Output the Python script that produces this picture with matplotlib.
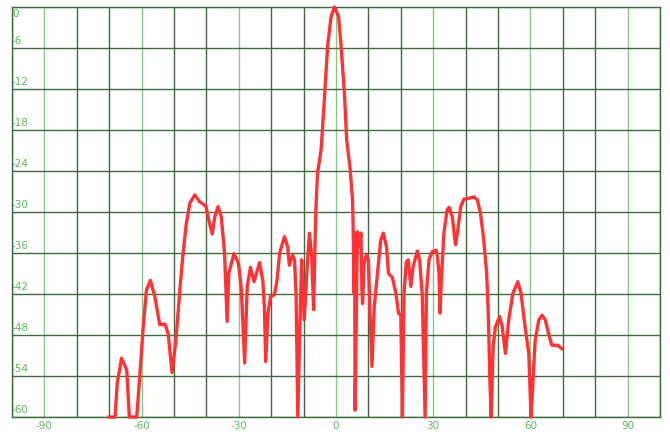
import matplotlib
matplotlib.use("Agg")
import matplotlib.pyplot as plt
import numpy as np

angle_deg = [-70.0, -69.0, -68.2, -67.5, -66.2, -64.6, -64.3, -63.8, -61.5, -60.5, -59.5, -58.5,
             -57.3, -55.9, -54.4, -52.8, -51.8, -50.6, -49.4, -48.2, -47.2, -46.2, -45.1, -43.6,
             -42.1, -40.2, -39.0, -38.2, -37.4, -36.4, -35.4, -34.4, -33.6, -33.1, -31.5, -30.1,
             -29.2, -28.2, -27.4, -26.4, -25.3, -24.3, -23.6, -22.6, -22.1, -21.7, -21.0, -20.2,
             -19.0, -18.2, -17.4, -15.9, -14.9, -14.4, -13.4, -12.8, -12.3, -11.8, -11.0, -10.6,
             -9.8, -8.9, -8.2, -7.5, -6.9, -6.5, -6.2, -5.7, -4.6, -3.6, -2.6, -1.5,
             -0.5, 0.8, 1.5, 2.6, 3.3, 4.3, 5.1, 5.3, 5.6, 5.75, 5.9, 6.6,
             7.2, 7.7, 8.0, 8.2, 8.7, 9.4, 10.0, 10.5, 11.1, 11.8, 12.8, 13.8,
             14.6, 15.6, 16.2, 17.4, 18.5, 19.3, 20.0, 20.5, 21.0, 21.7, 22.3, 23.1,
             23.8, 25.1, 25.8, 26.6, 27.5, 27.9, 28.7, 29.7, 30.9, 31.3, 31.8, 32.1,
             32.5, 33.3, 34.3, 34.9, 35.9, 36.9, 37.6, 38.5, 39.5, 41.0, 42.6, 43.6,
             44.6, 45.6, 46.5, 47.0, 47.5, 47.9, 48.5, 49.2, 50.5, 51.3, 52.3, 53.3,
             54.6, 56.1, 57.1, 58.5, 59.5, 60.2, 60.8, 61.5, 62.6, 63.6, 64.6, 65.6,
             66.6, 68.4, 69.7]
gain_db = [-60.0, -60.0, -60.0, -55.0, -51.4, -53.1, -55.5, -60.0, -60.0, -53.6, -46.8, -41.4,
           -40.0, -42.4, -46.5, -46.4, -47.8, -53.5, -48.7, -41.4, -36.0, -31.7, -28.7, -27.5,
           -28.5, -29.1, -31.7, -33.2, -30.7, -29.2, -30.7, -36.0, -46.0, -39.0, -36.1, -37.5,
           -41.4, -52.1, -40.9, -38.1, -40.2, -38.6, -37.4, -40.0, -43.9, -51.9, -44.8, -42.4,
           -42.1, -40.0, -36.0, -33.6, -35.1, -37.8, -36.3, -37.0, -42.4, -60.0, -43.9, -37.0,
           -45.8, -38.0, -33.1, -36.5, -44.3, -35.1, -29.5, -24.3, -20.9, -13.6, -5.8, -1.4,
           0.0, -1.4, -5.3, -12.6, -19.5, -23.4, -28.2, -32.6, -41.9, -33.1, -59.0, -32.9,
           -35.1, -33.1, -41.4, -43.4, -37.5, -36.3, -37.0, -44.8, -52.6, -43.9, -39.0, -34.1,
           -33.1, -35.1, -39.0, -39.6, -41.9, -44.8, -45.1, -60.0, -41.9, -37.3, -37.0, -40.9,
           -38.0, -35.7, -37.0, -41.9, -60.0, -41.9, -37.0, -35.8, -35.6, -36.5, -39.0, -44.8,
           -40.0, -33.1, -29.7, -29.3, -30.7, -34.8, -32.6, -29.2, -28.1, -28.0, -27.8, -28.2,
           -30.2, -34.1, -39.0, -44.8, -54.6, -60.0, -49.7, -46.8, -45.3, -46.8, -50.7, -45.8,
           -41.9, -40.2, -41.9, -47.3, -50.7, -60.0, -54.6, -48.7, -45.8, -45.1, -45.8, -47.8,
           -49.5, -49.5, -50.0]

x_ticks = [-90, -60, -30, 0, 30, 60, 90]
x_tick_labels = ["-90", "-60", "-30", "0", "30", "60", "90"]
y_ticks = [0, -6, -12, -18, -24, -30, -36, -42, -48, -54, -60]
y_tick_labels = ["0", "-6", "-12", "-18", "-24", "-30", "-36", "-42", "-48", "-54", "-60"]

W, H = 670, 434
fig = plt.figure(figsize=(W / 100, H / 100), dpi=100)
ax = fig.add_axes([12 / W, (H - 417) / H, (660 - 12) / W, (417 - 7) / H])
ax.set_xlim(-100, 100)
ax.set_ylim(-60, 0)

dark = "#3f6b3f"
light = "#86c886"
label_col = "#5cb85c"

# grid
for xv in np.arange(-100, 101, 10):
    c = light if (xv % 30 == 0) else dark
    ax.axvline(xv, color=c, lw=1.0, zorder=1)
for yv in y_ticks:
    c = light if yv == 0 else dark
    ax.axhline(yv, color=c, lw=1.0, zorder=1)

for s in ax.spines.values():
    s.set_color(dark)
    s.set_linewidth(1.0)

ax.set_xticks(x_ticks)
ax.set_xticklabels(x_tick_labels, color=label_col, fontsize=7.5)
ax.set_yticks([])
ax.tick_params(axis="x", length=0, pad=3)

for yv, lab in zip(y_ticks, y_tick_labels):
    if yv == 0:
        ax.text(-100, yv - 0.3, lab, color=label_col, fontsize=7.5, ha="left", va="top", zorder=2)
    else:
        ax.text(-100, yv + 0.3, lab, color=label_col, fontsize=7.5, ha="left", va="bottom", zorder=2)

ax.plot(angle_deg, gain_db, color="#ff3333", lw=2.4, zorder=3, clip_on=False,
        solid_joinstyle="round")

fig.savefig("out.png", dpi=100)
